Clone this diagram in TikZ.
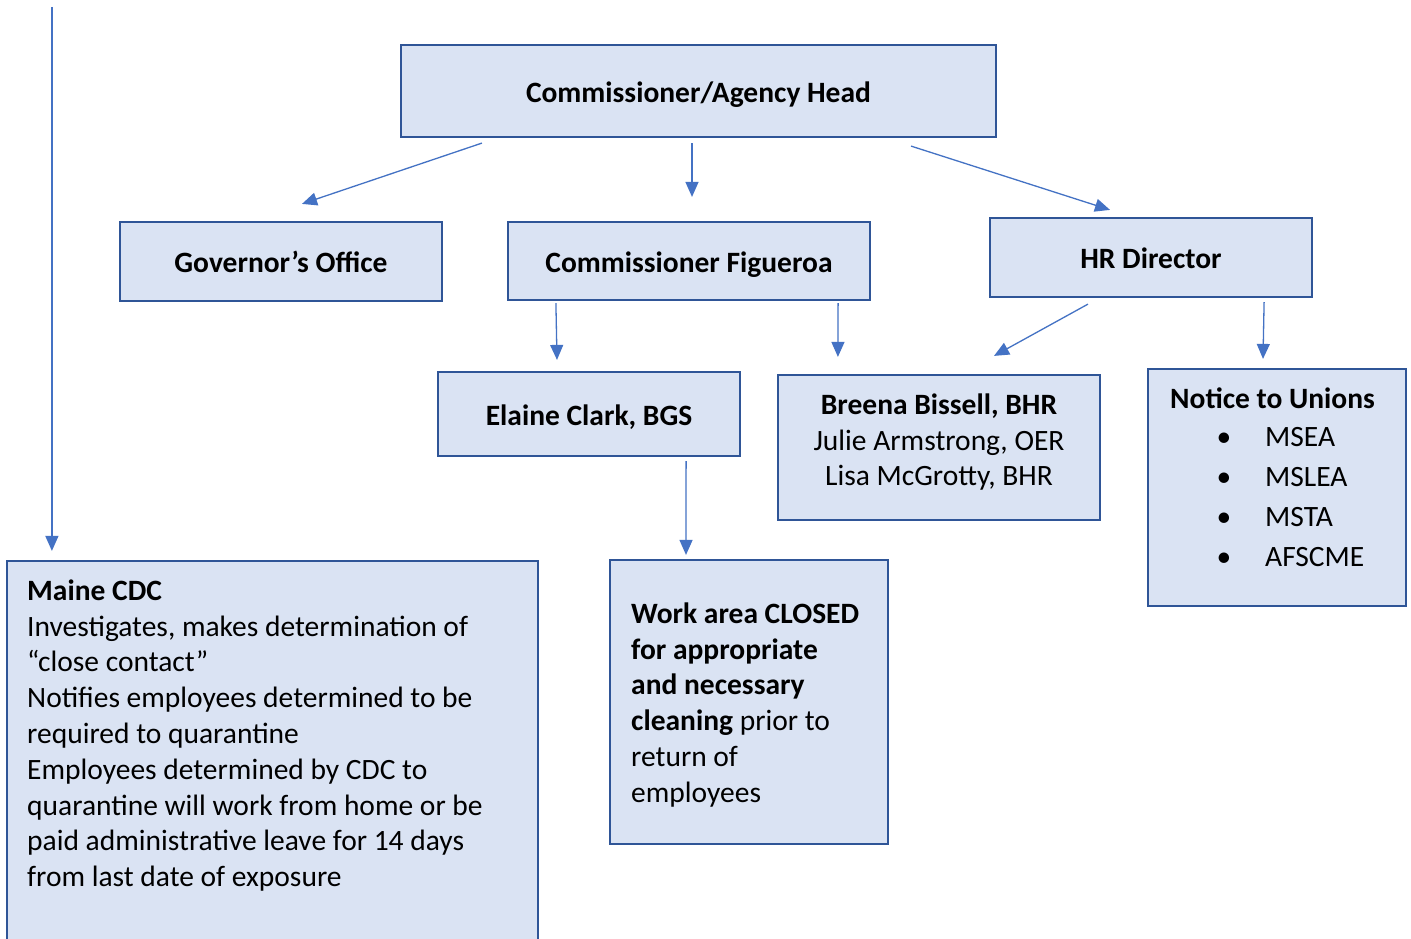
\documentclass[tikz,border=0pt]{standalone}
\usepackage{fontspec}
\setmainfont{Carlito}
\usetikzlibrary{arrows.meta,calc}
\definecolor{boxfill}{HTML}{DAE3F3}
\definecolor{boxline}{HTML}{2F5597}
\definecolor{arrowc}{HTML}{4472C4}
\begin{document}
\begin{tikzpicture}[x=1pt,y=-1pt,
  box/.style={draw=boxline, fill=boxfill, line width=2.2pt, inner sep=0pt},
  one/.style={text height=22pt, text depth=0pt},
  arr/.style={draw=arrowc, line width=1.3pt, -{Triangle[length=15pt,width=13pt]}},
  txt/.style={font=\fontsize{29.5}{35.8}\selectfont, inner sep=0pt}]
\clip (0,0) rectangle (1411,938);
\fill[white] (0,0) rectangle (1411,938);
% boxes
\node[box, txt, one, minimum width=595pt, minimum height=92pt] (head) at (698.5,91) {\bfseries Commissioner/Agency Head};
\node[box, txt, one, minimum width=322pt, minimum height=79pt] (gov) at (281,261.5) {\bfseries Governor’s Office};
\node[box, txt, one, minimum width=362pt, minimum height=78pt] (fig) at (689,261) {\bfseries Commissioner Figueroa};
\node[box, txt, one, minimum width=322pt, minimum height=79pt] (hr) at (1151,257.5) {\bfseries HR Director};
\node[box, txt, one, minimum width=302pt, minimum height=84pt] (elaine) at (589,414) {\bfseries Elaine Clark, BGS};
\node[box, minimum width=322pt, minimum height=145pt] (breena) at (939,447.5) {};
\node[box, minimum width=258pt, minimum height=237pt] (unions) at (1277,487.5) {};
\node[box, minimum width=531pt, minimum height=400pt] (cdc) at (272.5,761) {};
\node[box, minimum width=278pt, minimum height=284pt] (work) at (749,702) {};
% texts
\node[txt, align=center, anchor=north] (breenatxt) at (939,389) {\rule{0pt}{25pt}\bfseries Breena Bissell, BHR\\Julie Armstrong, OER\\Lisa McGrotty, BHR};
\node[txt, anchor=base west] (unionshd) at (1170,408) {\bfseries Notice to Unions};
\foreach \i/\n in {0/MSEA,1/MSLEA,2/MSTA,3/AFSCME}{
  \node[txt, anchor=base] (b\i) at (1224,446+40*\i) {•};
  \node[txt, anchor=base west] (u\i) at (1265,446+40*\i) {\n};
}
\node[txt, align=left, anchor=north west] (cdctxt) at (27,575) {\rule{0pt}{25pt}\bfseries Maine CDC\\
Investigates, makes determination of\\
“close contact”\\
Notifies employees determined to be\\
required to quarantine\\
Employees determined by CDC to\\
quarantine will work from home or be\\
paid administrative leave for 14 days\\
from last date of exposure};
\node[txt, align=left, anchor=north west] (worktxt) at (631,598) {\rule{0pt}{25pt}\bfseries Work area CLOSED\\
\bfseries for appropriate\\
\bfseries and necessary\\
\textbf{cleaning} prior to\\
return of\\
employees};
% connectors
\coordinate (src) at ($(cdc.north west)+(46,-553)$);
\draw[arr] (src) -- ($(cdc.north west)+(46,-9)$);
\draw[arr] ($(head.south west)+(82,5)$) -- ($(gov.north)+(21,-17)$);
\draw[arr] ($(head.south)+(-6.5,5)$) -- ($(fig.north)+(3,-24)$);
\draw[arr] ($(head.south east)+(-86,8)$) -- ($(hr.north)+(-41,-7)$);
\draw[arr] ($(fig.south west)+(49,2)$) -- ($(elaine.north)+(-32,-11)$);
\draw[arr] ($(fig.south east)+(-33,2)$) -- ($(breena.north west)+(61,-17)$);
\draw[arr] ($(hr.south)+(-63,6)$) -- ($(breena.north)+(55,-18)$);
\draw[arr] ($(hr.south east)+(-49,4)$) -- ($(unions.north)+(-14,-9)$);
\draw[arr] ($(elaine.south east)+(-55,4)$) -- ($(work.north)+(-63,-4)$);
\end{tikzpicture}
\end{document}
